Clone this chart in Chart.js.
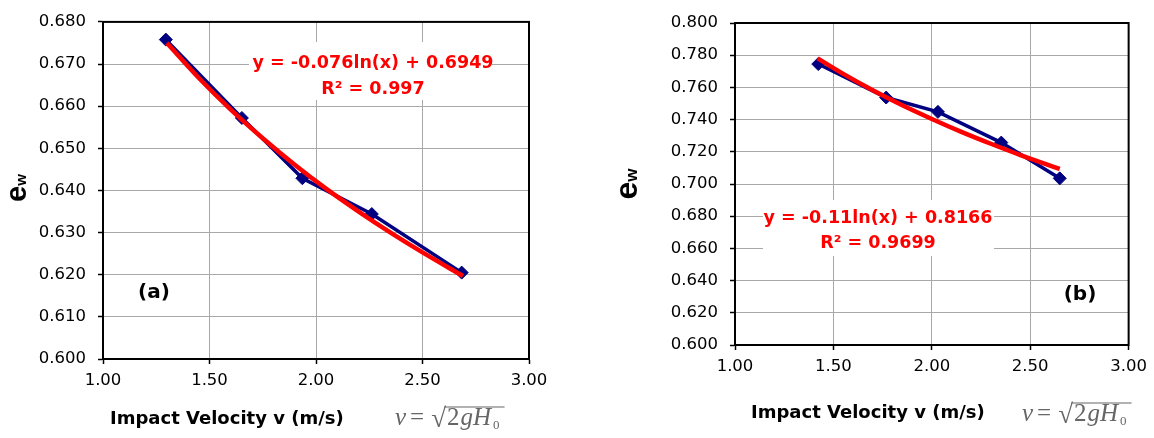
<!DOCTYPE html>
<html><head><meta charset="utf-8">
<script src="https://cdn.jsdelivr.net/npm/chart.js@4.4.1/dist/chart.umd.min.js"></script>
<style>
html,body{margin:0;padding:0;background:#fff;}
#wrap{position:relative;width:1154px;height:438px;overflow:hidden;}
.box{position:absolute;top:0;width:577px;height:438px;}
</style></head><body>
<div id="wrap">
<div class="box" style="left:0"><canvas id="cA" width="577" height="438"></canvas></div>
<div class="box" style="left:577px"><canvas id="cB" width="577" height="438"></canvas></div>
</div>
<script>
// ---- data ----
const velocityA = [1.295, 1.652, 1.936, 2.262, 2.684];
const ewA       = [0.6758, 0.6572, 0.6429, 0.6344, 0.6205];
const trendXA   = [1.30, 1.45, 1.60, 1.75, 1.90, 2.05, 2.20, 2.35, 2.50, 2.69];
const trendYA   = [0.6750, 0.6667, 0.6592, 0.6524, 0.6461, 0.6403, 0.6350, 0.6300, 0.6253, 0.6197];

const velocityB = [1.423, 1.768, 2.031, 2.353, 2.650];
const ewB       = [0.7745, 0.7537, 0.7448, 0.7257, 0.7035];
const trendXB   = [1.42, 1.55, 1.70, 1.85, 2.00, 2.15, 2.30, 2.45, 2.65];
const trendYB   = [0.7780, 0.7684, 0.7582, 0.7489, 0.7404, 0.7324, 0.7250, 0.7180, 0.7094];

const xTicks  = [1.00, 1.50, 2.00, 2.50, 3.00];
const yTicksA = [0.600, 0.610, 0.620, 0.630, 0.640, 0.650, 0.660, 0.670, 0.680];
const yTicksB = [0.600, 0.620, 0.640, 0.660, 0.680, 0.700, 0.720, 0.740, 0.760, 0.780, 0.800];

const equationA = ['y = -0.076ln(x) + 0.6949', 'R\u00B2 = 0.997'];
const equationB = ['y = -0.11ln(x) + 0.8166', 'R\u00B2 = 0.9699'];
const panelA = '(a)';
const panelB = '(b)';
const xTitle = 'Impact Velocity v (m/s)';

// ---- drawing ----
const H = 438;
const TICK_FONT = {family: 'DejaVu Sans', size: 16.5};

const decor = {
  id: 'decor',
  beforeDatasetsDraw(chart, args, o) {
    const ctx = chart.ctx, a = chart.chartArea;
    ctx.save();
    ctx.fillStyle = '#fff';
    ctx.fillRect(o.box[0], o.box[1], o.box[2] - o.box[0], o.box[3] - o.box[1]);
    ctx.strokeStyle = '#000';
    ctx.lineWidth = 2;
    ctx.strokeRect(a.left, a.top, a.right - a.left, a.bottom - a.top);
    ctx.restore();
  },
  afterDraw(chart, args, o) {
    const ctx = chart.ctx;
    ctx.save();
    // equation
    ctx.fillStyle = '#ff0000';
    ctx.font = 'bold 17.5px "DejaVu Sans"';
    ctx.textAlign = 'center';
    ctx.textBaseline = 'middle';
    ctx.fillText(o.eq[0], o.eqX, o.eqY[0]);
    ctx.fillText(o.eq[1], o.eqX, o.eqY[1]);
    // panel letter
    ctx.fillStyle = '#000';
    ctx.font = 'bold 20px "DejaVu Sans"';
    ctx.fillText(o.panel, o.panelPos[0], o.panelPos[1]);
    // x title
    ctx.textAlign = 'left';
    ctx.textBaseline = 'alphabetic';
    ctx.font = 'bold 18px "DejaVu Sans"';
    ctx.fillText(xTitle, o.titleX, o.titleY);
    // formula v = sqrt(2gH0)
    const fy = o.formY;
    let fx = o.formX;
    ctx.fillStyle = '#666';
    ctx.strokeStyle = '#666';
    const part = (txt, font, dx, dy) => {
      ctx.font = font;
      ctx.fillText(txt, fx, fy + (dy || 0));
      fx += ctx.measureText(txt).width + (dx || 0);
    };
    part('v', 'italic 25px "Liberation Serif"', 4);
    part('=', '25px "Liberation Serif"', 7);
    part('\u221A', '27px "Liberation Serif"', 1, 2);
    const barStart = fx - 3;
    part('2', '25px "Liberation Serif"', 1);
    part('gH', 'italic 25px "Liberation Serif"', 2);
    part('0', '13px "Liberation Serif"', 0, 4);
    ctx.lineWidth = 1.2;
    ctx.beginPath();
    ctx.moveTo(barStart, fy - 18);
    ctx.lineTo(fx + 5, fy - 18);
    ctx.stroke();
    // y title e_w
    ctx.translate(o.ewPos[0], o.ewPos[1]);
    ctx.rotate(-Math.PI / 2);
    ctx.fillStyle = '#000';
    ctx.font = 'bold ' + o.ewSize[0] + 'px "Liberation Sans"';
    const we = ctx.measureText('e').width;
    ctx.font = 'bold ' + o.ewSize[1] + 'px "Liberation Sans"';
    const ww = ctx.measureText('w').width;
    const x0 = -(we + ww) / 2;
    ctx.font = 'bold ' + o.ewSize[0] + 'px "Liberation Sans"';
    ctx.fillText('e', x0, o.ewBase[0]);
    ctx.font = 'bold ' + o.ewSize[1] + 'px "Liberation Sans"';
    ctx.fillText('w', x0 + we, o.ewBase[1]);
    ctx.restore();
  }
};

function makeChart(id, xs, ys, tx, ty, yTicks, area, deco) {
  return new Chart(document.getElementById(id), {
    type: 'scatter',
    data: {
      datasets: [
        {
          data: tx.map((x, i) => ({x: x, y: ty[i]})),
          showLine: true,
          borderColor: '#ff0000',
          borderWidth: 4.5,
          pointRadius: 0,
          cubicInterpolationMode: 'monotone',
          order: 0
        },
        {
          data: xs.map((x, i) => ({x: x, y: ys[i]})),
          showLine: true,
          borderColor: '#000080',
          backgroundColor: '#000080',
          borderWidth: 3.5,
          pointStyle: 'rectRot',
          pointRadius: 6.5,
          pointBorderWidth: 1,
          tension: 0,
          order: 1
        }
      ]
    },
    options: {
      responsive: false,
      animation: false,
      events: [],
      layout: {padding: {left: 0, top: area.top, right: 577 - area.right, bottom: 0}},
      plugins: {legend: {display: false}, tooltip: {enabled: false}, decor: deco},
      scales: {
        x: {
          type: 'linear',
          min: xTicks[0], max: xTicks[xTicks.length - 1],
          afterBuildTicks: s => { s.ticks = xTicks.map(v => ({value: v})); },
          afterFit: s => { s.height = H - area.bottom; },
          ticks: {callback: v => Number(v).toFixed(2), font: TICK_FONT, color: '#000', padding: 7, maxRotation: 0, autoSkip: false},
          grid: {color: '#a8a8a8', lineWidth: 1, tickColor: '#000', tickLength: 5, tickWidth: 1.5},
          border: {color: '#000', width: 2}
        },
        y: {
          type: 'linear',
          min: yTicks[0], max: yTicks[yTicks.length - 1],
          afterBuildTicks: s => { s.ticks = yTicks.map(v => ({value: v})); },
          afterFit: s => { s.width = area.left; },
          ticks: {callback: v => Number(v).toFixed(3), font: TICK_FONT, color: '#000', padding: 12, autoSkip: false},
          grid: {color: '#a8a8a8', lineWidth: 1, tickColor: '#000', tickLength: 5, tickWidth: 1.5},
          border: {color: '#000', width: 2}
        }
      }
    },
    plugins: [decor]
  });
}

makeChart('cA', velocityA, ewA, trendXA, trendYA, yTicksA,
  {left: 103, top: 18, right: 529, bottom: 359},
  {box: [249, 42, 492, 100], eq: equationA, eqX: 373, eqY: [63, 89],
   panel: panelA, panelPos: [154, 293], titleX: 110, titleY: 424,
   formX: 395, formY: 425, ewPos: [18, 188], ewSize: [29, 15], ewBase: [8, 8]});

makeChart('cB', velocityB, ewB, trendXB, trendYB, yTicksB,
  {left: 158, top: 23, right: 555, bottom: 345},
  {box: [186, 200, 417, 256], eq: equationB, eqX: 301, eqY: [218, 243],
   panel: panelB, panelPos: [503, 295], titleX: 174, titleY: 418,
   formX: 445, formY: 421, ewPos: [51, 184], ewSize: [32, 17], ewBase: [9, 9]});
</script>
</body></html>
